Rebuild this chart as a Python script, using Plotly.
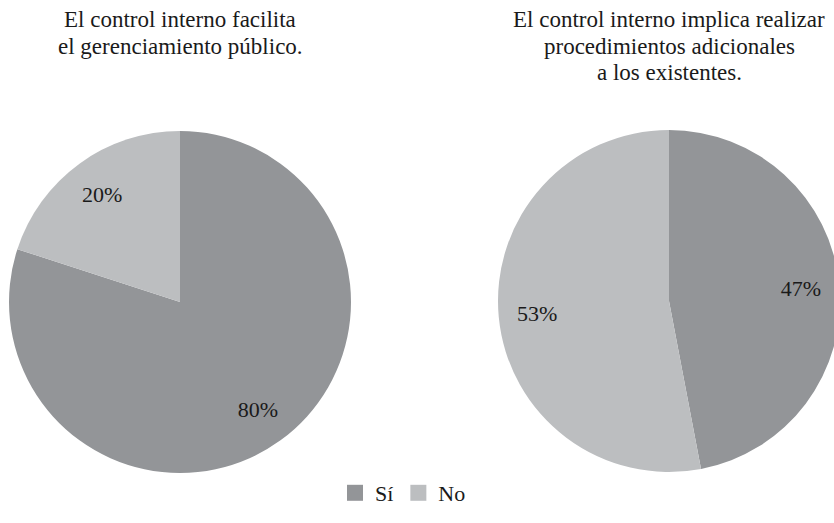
import plotly.graph_objects as go

categories = ["Sí", "No"]
values_left = [80, 20]
values_right = [47, 53]
title_left = ["El control interno facilita", "el gerenciamiento público."]
title_right = ["El control interno implica realizar", "procedimientos adicionales", "a los existentes."]
colors = ["#939598", "#bcbec0"]

W, H = 842, 523
FONT = "Liberation Serif"

def dom_x(cx, r):
    return [(cx - r) / W, (cx + r) / W]

def dom_y(cy, r):
    return [(H - cy - r) / H, (H - cy + r) / H]

fig = go.Figure()
for vals, cx, cy in [(values_left, 180, 302), (values_right, 669, 301)]:
    dom = dict(x=dom_x(cx, 171), y=dom_y(cy, 171))
    # coloured slices
    fig.add_trace(go.Pie(
        labels=categories, values=vals, sort=False, direction="clockwise", rotation=0,
        marker=dict(colors=colors, line=dict(width=0)),
        textinfo="none", domain=dom, showlegend=False, hoverinfo="label+percent",
    ))
    # percentage labels placed in the outer ring
    fig.add_trace(go.Pie(
        labels=categories, values=vals, sort=False, direction="clockwise", rotation=0, hole=0.55,
        marker=dict(colors=["rgba(0,0,0,0)", "rgba(0,0,0,0)"], line=dict(width=0)),
        textinfo="percent", textposition="inside", insidetextorientation="horizontal",
        textfont=dict(family=FONT, size=22, color="#1a1a1a"),
        domain=dom, showlegend=False, hoverinfo="skip",
    ))

# legend entries
for name, col in zip(categories, colors):
    fig.add_trace(go.Scatter(x=[None], y=[None], mode="markers", name=name,
                             marker=dict(symbol="square", size=22, color=col),
                             showlegend=True))

annotations = []
for lines, cx in [(title_left, 180), (title_right, 669)]:
    for i, t in enumerate(lines):
        annotations.append(dict(text=t, x=cx / W, y=1 - (20 + 26 * i) / H, xref="paper", yref="paper",
                                xanchor="center", yanchor="middle", showarrow=False,
                                font=dict(family=FONT, size=23, color="#1a1a1a")))

fig.update_layout(
    width=W, height=H, margin=dict(l=0, r=0, t=0, b=0),
    paper_bgcolor="white", plot_bgcolor="white",
    xaxis=dict(visible=False), yaxis=dict(visible=False),
    annotations=annotations,
    legend=dict(orientation="h", x=403 / W, xanchor="center", y=(H - 493) / H, yanchor="middle",
                font=dict(family=FONT, size=22, color="#1a1a1a"), itemclick=False),
)

fig.write_html("out.html", post_script="document.body.style.overflow='hidden';document.documentElement.style.overflow='hidden';")
